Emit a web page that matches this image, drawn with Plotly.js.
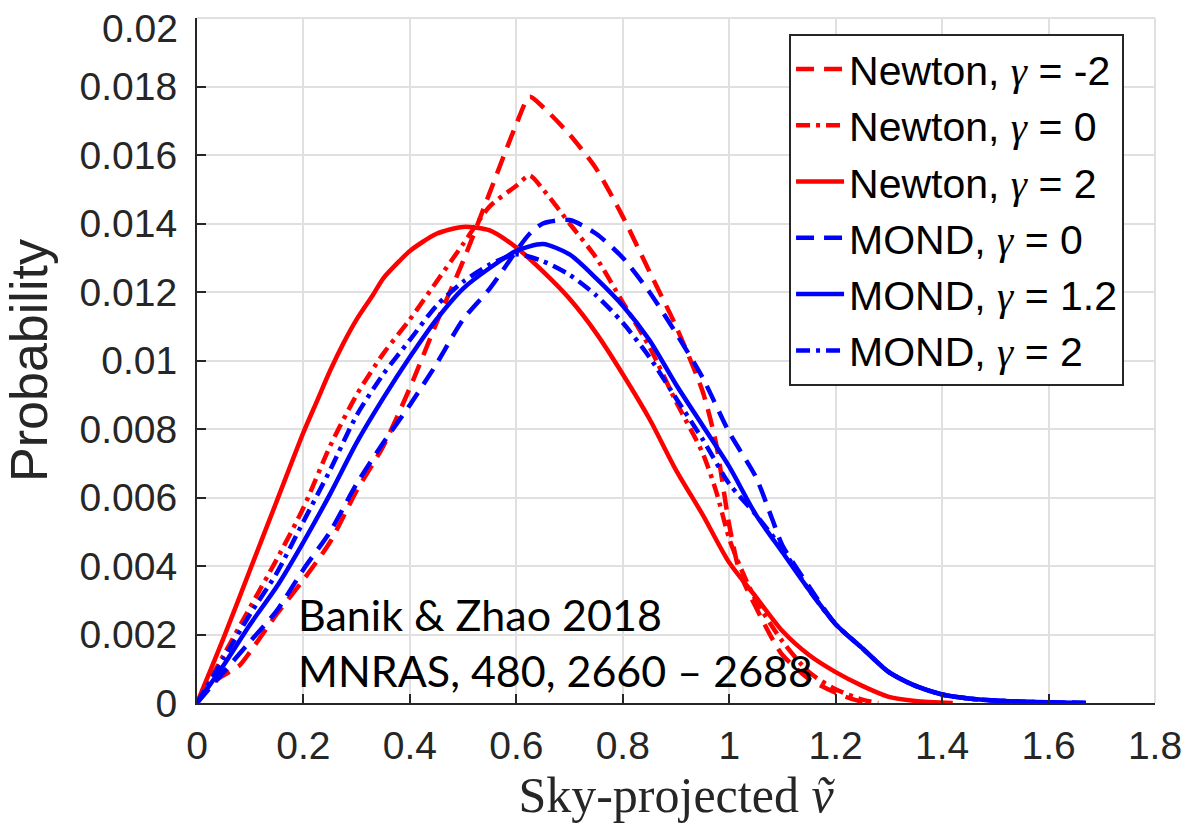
<!DOCTYPE html>
<html>
<head>
<meta charset="utf-8">
<script src="https://cdn.plot.ly/plotly-3.0.1.min.js"></script>
<style>
html,body{margin:0;padding:0;background:#fff;}
#chart{width:1187px;height:828px;}
</style>
</head>
<body>
<div id="chart"></div>
<script>
// ---- data ----
const GAMMA = '<span style="font-family:Liberation Serif"><i>γ</i></span>';
const seriesNames = ["Newton, " + GAMMA + " = -2", "Newton, " + GAMMA + " = 0", "Newton, " + GAMMA + " = 2",
                     "MOND, " + GAMMA + " = 0", "MOND, " + GAMMA + " = 1.2", "MOND, " + GAMMA + " = 2"];

const newtonM2_x = [0,0.03,0.06,0.08,0.1,0.15,0.2,0.25,0.3,0.35,0.4,0.45,0.5,0.55,0.6,0.625,0.65,0.7,0.75,0.8,0.85,0.9,0.95,0.975,1.0,1.02,1.05,1.08,1.1,1.15,1.2,1.23,1.26];
const newtonM2_y = [0,0.0006,0.0009,0.0011,0.0015,0.0026,0.0036,0.0047,0.0062,0.0075,0.0092,0.0111,0.0129,0.0149,0.0169,0.0177,0.0174,0.0166,0.0156,0.0142,0.0126,0.0110,0.0091,0.0076,0.0052,0.0038,0.0028,0.0019,0.0014,0.0007,0.0003,0.00012,0];

const newton0_x = [0,0.05,0.1,0.15,0.2,0.25,0.3,0.35,0.4,0.45,0.5,0.55,0.6,0.625,0.65,0.7,0.75,0.8,0.85,0.9,0.95,0.975,1.0,1.02,1.05,1.1,1.15,1.2,1.25,1.28];
const newton0_y = [0,0.0014,0.0028,0.0042,0.0057,0.0075,0.0090,0.0102,0.0112,0.0123,0.0134,0.0145,0.0151,0.0154,0.0150,0.0140,0.0130,0.0117,0.0104,0.0088,0.0073,0.0062,0.0048,0.0040,0.0030,0.0018,0.0009,0.0004,0.0001,0];

const newton2_x = [0,0.05,0.1,0.15,0.2,0.225,0.25,0.275,0.3,0.33,0.35,0.38,0.4,0.45,0.5,0.55,0.6,0.65,0.7,0.75,0.8,0.85,0.9,0.95,1.0,1.05,1.1,1.15,1.2,1.25,1.3,1.35,1.42];
const newton2_y = [0,0.0019,0.0039,0.0059,0.0079,0.0088,0.0097,0.0105,0.0112,0.0119,0.0124,0.0129,0.0132,0.0137,0.0139,0.0138,0.0133,0.0126,0.0118,0.0108,0.0096,0.0083,0.0068,0.0055,0.0041,0.0031,0.0021,0.0014,0.0009,0.0005,0.00018,0.00006,0];

const mond0_x = [0,0.05,0.1,0.15,0.2,0.25,0.3,0.35,0.4,0.45,0.5,0.55,0.6,0.625,0.65,0.7,0.75,0.8,0.85,0.9,0.95,1.0,1.05,1.08,1.1,1.15,1.2,1.25,1.3,1.35,1.4,1.45,1.5,1.55,1.6,1.67];
const mond0_y = [0,0.0009,0.0018,0.0027,0.0039,0.0050,0.0064,0.0076,0.0087,0.0099,0.0112,0.0121,0.0132,0.0137,0.0140,0.0141,0.0137,0.0130,0.0120,0.0108,0.0095,0.0079,0.0066,0.0054,0.0046,0.0034,0.0023,0.0016,0.0009,0.0005,0.00025,0.00013,0.00007,0.00004,0.00002,0];

const mond12_x = [0,0.05,0.1,0.15,0.2,0.25,0.3,0.35,0.4,0.45,0.5,0.55,0.6,0.65,0.7,0.75,0.8,0.85,0.9,0.95,1.0,1.05,1.1,1.15,1.2,1.25,1.3,1.35,1.4,1.45,1.5,1.55,1.6,1.67];
const mond12_y = [0,0.0011,0.0023,0.0034,0.0047,0.0061,0.0076,0.0089,0.0101,0.0112,0.0121,0.0127,0.0132,0.0134,0.0131,0.0124,0.0116,0.0106,0.0093,0.0081,0.0069,0.0055,0.0044,0.0033,0.0023,0.0016,0.0009,0.0005,0.00025,0.00013,0.00007,0.00004,0.00002,0];

const mond2_x = [0,0.05,0.1,0.15,0.2,0.25,0.3,0.35,0.4,0.45,0.5,0.55,0.6,0.65,0.7,0.75,0.8,0.85,0.9,0.95,1.0,1.05,1.1,1.15,1.2,1.25,1.3,1.35,1.4,1.45,1.5,1.55,1.6,1.67];
const mond2_y = [0,0.0013,0.0026,0.0038,0.0053,0.0068,0.0084,0.0096,0.0106,0.0116,0.0123,0.0128,0.0131,0.0129,0.0125,0.0119,0.0111,0.0101,0.0089,0.0077,0.0064,0.0055,0.0045,0.0033,0.0023,0.0016,0.0009,0.0005,0.00025,0.00013,0.00007,0.00004,0.00002,0];

const xTickVals = [0,0.2,0.4,0.6,0.8,1,1.2,1.4,1.6,1.8];
const xTickText = ["0","0.2","0.4","0.6","0.8","1","1.2","1.4","1.6","1.8"];
const yTickVals = [0,0.002,0.004,0.006,0.008,0.01,0.012,0.014,0.016,0.018,0.02];
const yTickText = ["0","0.002","0.004","0.006","0.008","0.01","0.012","0.014","0.016","0.018","0.02"];

const annotationText = "Banik &amp; Zhao 2018<br>MNRAS, 480, 2660 – 2688";

// ---- styles ----
const RED = "#ff0000", BLUE = "#0000ff";
const DASH = "18px,10px";
const DASHDOT = "14px,6px,4px,6px";
const GRID = "#e0e0e0";

function tr(x, y, name, color, dash) {
  return {x: x, y: y, name: name, type: "scatter", mode: "lines",
          line: {color: color, width: 4.5, dash: dash, shape: "spline", smoothing: 0.7}};
}

const data = [
  tr(newtonM2_x, newtonM2_y, seriesNames[0], RED, DASH),
  tr(newton0_x, newton0_y, seriesNames[1], RED, DASHDOT),
  tr(newton2_x, newton2_y, seriesNames[2], RED, "solid"),
  tr(mond0_x, mond0_y, seriesNames[3], BLUE, DASH),
  tr(mond12_x, mond12_y, seriesNames[4], BLUE, "solid"),
  tr(mond2_x, mond2_y, seriesNames[5], BLUE, DASHDOT)
];

const tickFont = {family: "Liberation Sans, Arial, sans-serif", size: 39, color: "#262626"};

// the top y label sits just inside the picture (as in the reference), drawn as an annotation
const lastY = yTickText.length - 1;
const yTickTextDrawn = yTickText.map((t, i) => i === lastY ? "" : t);

const layout = {
  width: 1187, height: 828,
  margin: {l: 197, r: 32, t: 18, b: 125},
  paper_bgcolor: "#ffffff", plot_bgcolor: "#ffffff",
  showlegend: true,
  xaxis: {
    range: [0, 1.8], tickmode: "array", tickvals: xTickVals, ticktext: xTickText,
    showgrid: true, gridcolor: GRID, gridwidth: 2, zeroline: false,
    showline: true, linecolor: "#262626", linewidth: 2,
    ticks: "inside", ticklen: 9, tickwidth: 2, tickcolor: "#262626",
    tickfont: tickFont, ticklabelstandoff: 7, ticklabeloverflow: "allow",
    title: {text: "Sky-projected <i>ṽ</i>", font: {family: "Liberation Serif, serif", size: 50, color: "#262626"}, standoff: 8},
    automargin: false, fixedrange: true
  },
  yaxis: {
    range: [0, 0.02], tickmode: "array", tickvals: yTickVals, ticktext: yTickTextDrawn,
    showgrid: true, gridcolor: GRID, gridwidth: 2, zeroline: false,
    showline: true, linecolor: "#262626", linewidth: 2,
    ticks: "inside", ticklen: 9, tickwidth: 2, tickcolor: "#262626",
    tickfont: tickFont, ticklabelstandoff: 10, ticklabeloverflow: "allow",
    title: {text: "Probability", font: {family: "Liberation Sans, Arial, sans-serif", size: 52, color: "#262626"}, standoff: 18},
    automargin: false, fixedrange: true
  },
  shapes: [
    {type: "line", xref: "paper", yref: "paper", x0: 0, x1: 1, y0: 1, y1: 1, line: {color: GRID, width: 2}, layer: "below"},
    {type: "line", xref: "paper", yref: "paper", x0: 1, x1: 1, y0: 0, y1: 1, line: {color: GRID, width: 2}, layer: "below"}
  ],
  legend: {
    x: 0.618, y: 0.977, xanchor: "left", yanchor: "top",
    bgcolor: "#ffffff", bordercolor: "#262626", borderwidth: 2,
    font: {family: "Liberation Sans, Arial, sans-serif", size: 41, color: "#000000"},
    itemwidth: 48, tracegroupgap: 0
  },
  annotations: [{
    xref: "paper", yref: "paper", x: 0.103, y: 0.0073, xanchor: "left", yanchor: "bottom",
    text: annotationText, showarrow: false, align: "left",
    font: {family: "Lato, sans-serif", size: 43, color: "#000000"}
  }, {
    xref: "paper", yref: "paper", x: -0.0177, y: 0.9854, xanchor: "right", yanchor: "middle",
    text: yTickText[lastY], showarrow: false, font: tickFont
  }]
};

Plotly.newPlot("chart", data, layout, {displayModeBar: false, staticPlot: true});
</script>
</body>
</html>
